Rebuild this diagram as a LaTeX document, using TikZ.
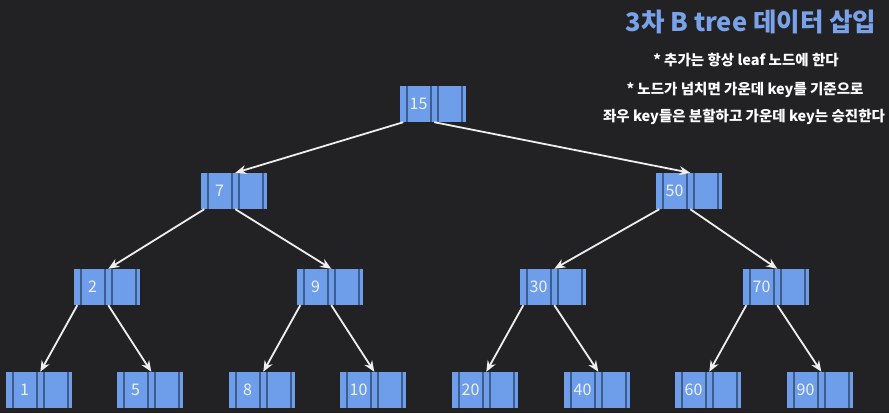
\documentclass[tikz,border=0pt]{standalone}
\usepackage{fontspec}
\setmainfont{Noto Sans CJK KR}
\usepackage{xcolor}
\usepackage{tikz}
\usetikzlibrary{arrows.meta,positioning}
\definecolor{BgDark}{RGB}{34,34,36}
\definecolor{BBlue}{RGB}{110,157,234}
\definecolor{BLine}{RGB}{62,92,140}
\definecolor{TBlue}{RGB}{122,162,234}
\definecolor{KeyWhite}{RGB}{236,242,252}
\definecolor{EdgeWhite}{RGB}{238,238,238}
\tikzset{
  bnode/.style={
    fill=BBlue,
    minimum width=66pt,
    minimum height=36pt,
    inner sep=0pt,
    path picture={
      \foreach \d in {7,31,38,62}
        \draw[BLine, line width=1.6pt]
          ([xshift=\d pt]path picture bounding box.south west) --
          ([xshift=\d pt]path picture bounding box.north west);
    }
  },
  keytxt/.style={text=KeyWhite, font=\fontsize{16}{16}\selectfont, inner sep=0pt},
  edge/.style={EdgeWhite, line width=1.8pt, -{Stealth[length=11pt,width=9pt]}},
  note/.style={text=white, font=\fontsize{14.5}{14.5}\selectfont\bfseries}
}
\begin{document}
\begin{tikzpicture}[x=1pt,y=-1pt]
  \fill[BgDark] (0,0) rectangle (889,413);

  % title and notes
  \node[text=TBlue, font=\fontsize{25.5}{25.5}\selectfont\bfseries] (title) at (751,22) {3차 B tree 데이터 삽입};
  \node[note] (note1) at (746,60) {* 추가는 항상 leaf 노드에 한다};
  \node[note] (note2) at (745,90) {* 노드가 넘치면 가운데 key를 기준으로};
  \node[note] (note3) at (744,117) {좌우 key들은 분할하고 가운데 key는 승진한다};

  % tree nodes
  \node[bnode, label={[keytxt, xshift=-14.5pt]center:15}] (n15) at (433,104) {};
  \node[bnode, label={[keytxt, xshift=-14.5pt]center:7}]  (n7)  at (234,191) {};
  \node[bnode, label={[keytxt, xshift=-14.5pt]center:50}] (n50) at (689,191) {};
  \node[bnode, label={[keytxt, xshift=-14.5pt]center:2}]  (n2)  at (107,287) {};
  \node[bnode, label={[keytxt, xshift=-14.5pt]center:9}]  (n9)  at (330,287) {};
  \node[bnode, label={[keytxt, xshift=-14.5pt]center:30}] (n30) at (553,287) {};
  \node[bnode, label={[keytxt, xshift=-14.5pt]center:70}] (n70) at (776,287) {};
  \node[bnode, label={[keytxt, xshift=-14.5pt]center:1}]  (n1)  at (39,390) {};
  \node[bnode, label={[keytxt, xshift=-14.5pt]center:5}]  (n5)  at (150,390) {};
  \node[bnode, label={[keytxt, xshift=-14.5pt]center:8}]  (n8)  at (262,390) {};
  \node[bnode, label={[keytxt, xshift=-14.5pt]center:10}] (n10) at (373,390) {};
  \node[bnode, label={[keytxt, xshift=-14.5pt]center:20}] (n20) at (485,390) {};
  \node[bnode, label={[keytxt, xshift=-14.5pt]center:40}] (n40) at (597,390) {};
  \node[bnode, label={[keytxt, xshift=-14.5pt]center:60}] (n60) at (708,390) {};
  \node[bnode, label={[keytxt, xshift=-14.5pt]center:90}] (n90) at (820,390) {};

  % pointers: left child from first cell, right child from middle cell
  \foreach \p/\l/\r in {n15/n7/n50, n7/n2/n9, n50/n30/n70, n2/n1/n5, n9/n8/n10, n30/n20/n40, n70/n60/n90} {
    \draw[edge] ([xshift=3.5pt]\p.south west) -- ([xshift=34.5pt]\l.north west);
    \draw[edge] ([xshift=34.5pt]\p.south west) -- ([xshift=34.5pt]\r.north west);
  }
\end{tikzpicture}
\end{document}
